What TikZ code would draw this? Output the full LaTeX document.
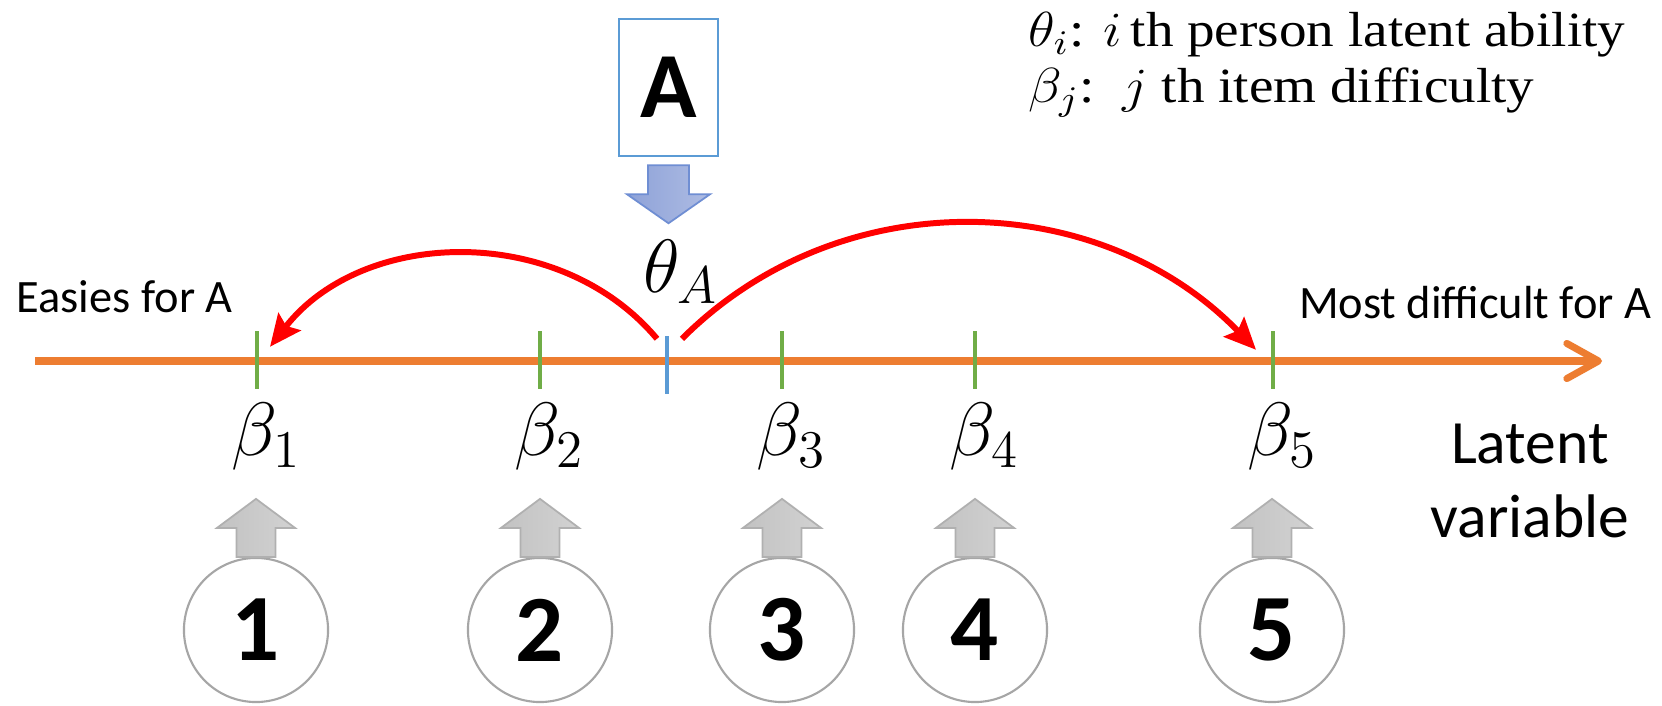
\documentclass[tikz,border=0pt]{standalone}
\usepackage{fix-cm}
\usepackage{fontspec}
\setmainfont{Liberation Serif}
\newfontfamily\calibri{Carlito}
\usetikzlibrary{arrows.meta, positioning, calc}

\definecolor{axisorange}{HTML}{ED7D31}
\definecolor{tickgreen}{HTML}{70AD47}
\definecolor{tickblue}{HTML}{5B9BD5}
\definecolor{boxblue}{HTML}{5B9BD5}
\definecolor{circgray}{HTML}{A6A6A6}
\definecolor{arrgray}{HTML}{B0B0B0}
\definecolor{arrgrayL}{HTML}{C2C2C2}
\definecolor{arrgrayR}{HTML}{D2D2D2}
\definecolor{arrblue}{HTML}{6F8ED3}
\definecolor{arrblueL}{HTML}{8EA2D8}
\definecolor{arrblueR}{HTML}{AEBCE3}

\begin{document}
\begin{tikzpicture}[x=0.01cm, y=0.01cm,
  itemtick/.style={fill=tickgreen, inner sep=0pt, minimum width=0.9pt, minimum height=0.57cm},
  abiltick/.style={itemtick, fill=tickblue},
  param/.style={font=\fontsize{21.5}{25}\selectfont},
  item/.style={circle, draw=circgray, line width=0.6pt, minimum size=1.44cm, inner sep=0pt, font=\calibri\bfseries\fontsize{27}{30}\selectfont},
  blockup/.style={draw=arrgray, line width=0.5pt, left color=arrgrayL, right color=arrgrayR},
  blockdown/.style={draw=arrblue, line width=0.5pt, left color=arrblueL, right color=arrblueR},
  jump/.style={draw=red, line width=1.7pt, -{Stealth[length=9pt, width=8pt, inset=1.5pt]}},
  side/.style={inner sep=0pt, font=\calibri\fontsize{13.2}{15.8}\selectfont},
  legend/.style={anchor=base west, inner sep=0pt, font=\fontsize{14}{16}\selectfont}]

  % frame
  \fill[white] (0,0) rectangle (1662,-706);
  \useasboundingbox (0,0) rectangle (1662,-706);

  % latent axis
  \coordinate (ax0) at (35,-361);
  \coordinate (ax1) at (1602,-361);
  \draw[axisorange, line width=2pt, -{Straight Barb[length=9pt, width=10pt, round]}] (ax0) -- (ax1);

  % ticks
  \node[itemtick] (t1) at (257,-360) {};
  \node[itemtick] (t2) at (540,-360) {};
  \node[abiltick] (tA) at (667,-365) {};
  \node[itemtick] (t3) at (782,-360) {};
  \node[itemtick] (t4) at (975,-360) {};
  \node[itemtick] (t5) at (1273,-360) {};

  % item difficulties
  \node[param] (b1) at (266,-437) {$\beta_1$};
  \node[param] (b2) at (549,-437) {$\beta_2$};
  \node[param] (b3) at (791,-437) {$\beta_3$};
  \node[param] (b4) at (984,-437) {$\beta_4$};
  \node[param] (b5) at (1282,-437) {$\beta_5$};

  % items
  \node[item] (c1) at (256,-630) {1};
  \node[item] (c2) at (540,-630) {2};
  \node[item] (c3) at (782,-630) {3};
  \node[item] (c4) at (975,-630) {4};
  \node[item] (c5) at (1272,-630) {5};
  \foreach \c in {c1,c2,c3,c4,c5}
    \draw[blockup] (\c.north) ++(-19.5,0) -- ++(0,29) -- ++(-19.5,0) -- ++(39,29)
      -- ++(39,-29) -- ++(-19.5,0) -- ++(0,-29) -- cycle;

  % person A
  \node[draw=boxblue, line width=0.7pt, minimum width=0.99cm, minimum height=1.37cm, inner sep=0pt,
    font=\calibri\bfseries\fontsize{26.5}{30}\selectfont] (boxA) at (668.5,-87.5) {A};
  \draw[blockdown] ($(boxA.south)+(-20.5,-8)$) -- ++(0,-29) -- ++(-21,0) -- ++(41.5,-29)
    -- ++(41.5,29) -- ++(-21,0) -- ++(0,29) -- cycle;
  \node[param] (thA) at (681,-272) {$\theta_A$};

  % jumps
  \draw[jump] ($(tA.north)+(-10,-3)$) to[out=130, in=52] ($(t1.north)+(13,-16)$);
  \draw[jump] ($(tA.north)+(15,-3)$) to[out=45, in=134] ($(t5.north)+(-17,-19)$);

  % texts
  \node[side, anchor=west] (easy) at (16,-297) {Easies for A};
  \node[side, anchor=east] (hard) at (1652,-303) {Most difficult for A};
  \node[align=center, font=\calibri\fontsize{17.5}{21}\selectfont] (latent) at (1530,-481) {Latent\\variable};
  \node[legend] (leg1) at (1028,-47) {\scalebox{1.12}[1]{$\theta_i$: $i$\,th person latent ability}};
  \node[legend] (leg2) at (1028,-103) {\scalebox{1.12}[1]{$\beta_j$:\ \ $j$ th item difficulty}};
\end{tikzpicture}
\end{document}
